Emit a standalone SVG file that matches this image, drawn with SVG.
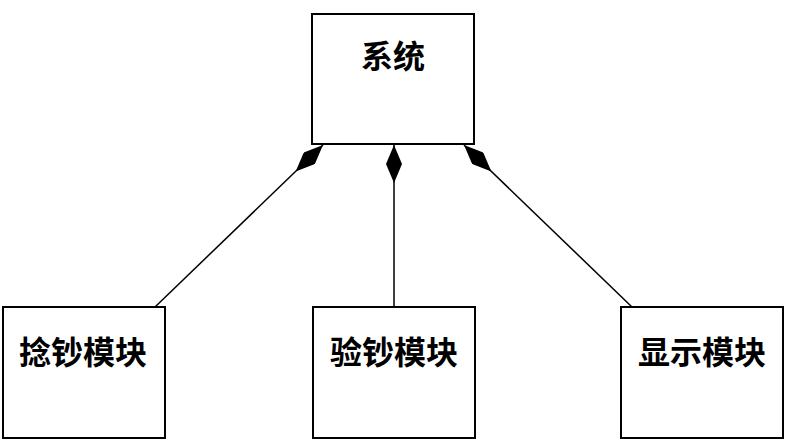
<svg xmlns="http://www.w3.org/2000/svg" width="790" height="447" viewBox="0 0 790 447">
<style>
.box{fill:#fff;stroke:#000;stroke-width:2}
.lbl{font-family:"Noto Sans CJK SC","Noto Sans",sans-serif;font-size:32px;font-weight:bold;text-anchor:middle;fill:#000}
.conn{stroke:#000;stroke-width:1.5;fill:none;marker-start:url(#diamond)}
</style>
<defs>
<marker id="diamond" markerUnits="userSpaceOnUse" viewBox="0 0 38 16" refX="0" refY="8" markerWidth="38" markerHeight="16" orient="auto">
<path d="M0,8 L19,0 L38,8 L19,16 Z" fill="#000"/>
</marker>
</defs>
<rect x="0" y="0" width="790" height="447" fill="#fff"/>
<g id="connectors">
<path class="conn" d="M323,145 L155,307"/>
<path class="conn" d="M394,145 L394,307"/>
<path class="conn" d="M464,145 L632,307"/>
</g>
<g id="system">
<rect class="box" x="312" y="14" width="162" height="130"/>
<text class="lbl" x="393" y="68">系统</text>
</g>
<g id="module1">
<rect class="box" x="3" y="307" width="162" height="131"/>
<text class="lbl" x="83" y="364">捻钞模块</text>
</g>
<g id="module2">
<rect class="box" x="313" y="307" width="162" height="131"/>
<text class="lbl" x="394" y="364">验钞模块</text>
</g>
<g id="module3">
<rect class="box" x="621" y="307" width="162" height="131"/>
<text class="lbl" x="702" y="364">显示模块</text>
</g>
</svg>
